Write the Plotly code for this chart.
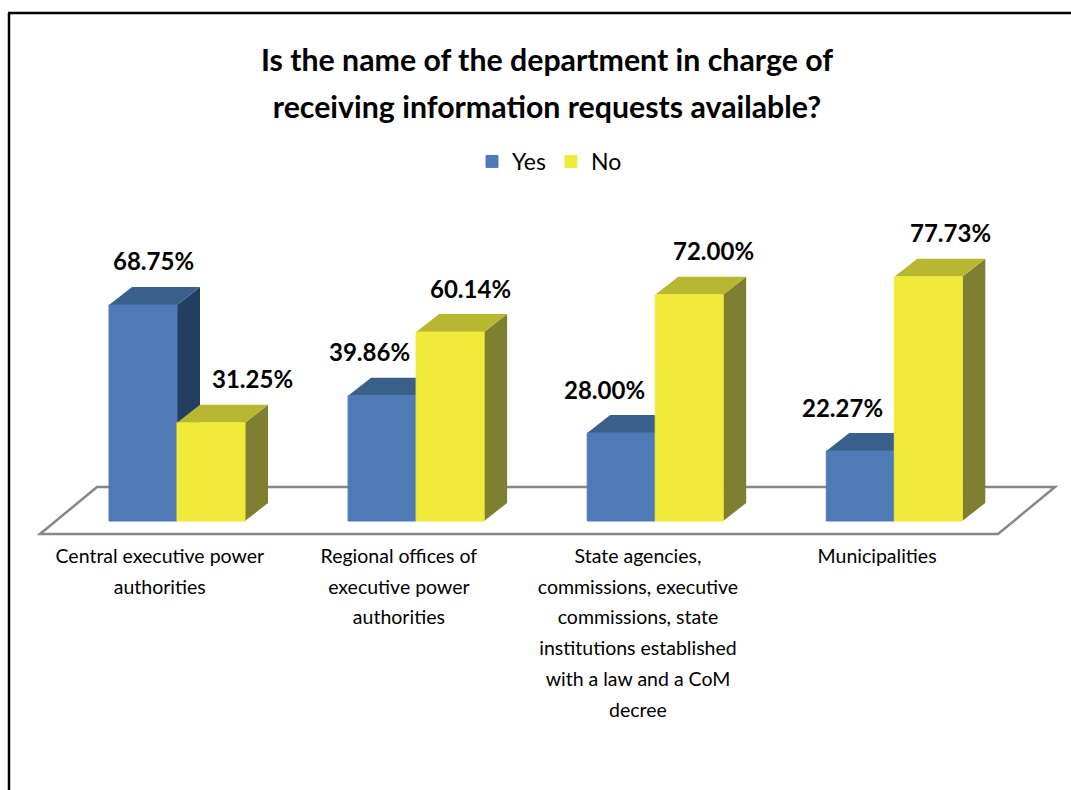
import plotly.graph_objects as go

categories = ["Central executive power<br>authorities",
              "Regional offices of<br>executive power<br>authorities",
              "State agencies,<br>commissions, executive<br>commissions, state<br>institutions established<br>with a law and a CoM<br>decree",
              "Municipalities"]
yes_values = [68.75, 39.86, 28.00, 22.27]
no_values = [31.25, 60.14, 72.00, 77.73]
series_names = ["Yes", "No"]

# label nudges in pixels (hand placed in the original)
yes_label_shift = [10, -13, -17, -18]
no_label_shift = [41, 20, 24, 22]

W, H = 1071, 790
FONT = "Lato, Carlito, Calibri, sans-serif"
PX_X = 239.1   # px per category
PX_Y = 3.142   # px per percent
X0_PX, Y0_PX = 177, 521
L, R, T, B = 30, 1065, 14, 538

xr = [(L - X0_PX) / PX_X, (R - X0_PX) / PX_X]
yr = [(Y0_PX - B) / PX_Y, (Y0_PX - T) / PX_Y]
bw = 68 / PX_X
dx, dy = 23 / PX_X, 18 / PX_Y
xs = list(range(len(categories)))

def px(x): return (x - L) / (R - L)
def py(y): return (B - y) / (B - T)
def dax(p): return (p - X0_PX) / PX_X
def day(p): return (Y0_PX - p) / PX_Y

def poly(pts, fill, line=None, width=0):
    path = "M" + " L".join(f"{a:.5f},{b:.5f}" for a, b in pts) + " Z"
    return dict(type="path", xref="x", yref="y", path=path, fillcolor=fill,
                line=dict(color=line or fill, width=width), layer="below")

shapes = [
    poly([(dax(40), day(534)), (dax(97), day(487)), (dax(1055), day(487)), (dax(998), day(534))],
         "white", "#878787", 2.5),
]
for vals, left, top_c, side_c in ((yes_values, -bw, "#3A5F8B", "#233F5F"),
                                  (no_values, 0, "#B8B732", "#7F7F32")):
    for x, v in zip(xs, vals):
        a, b = x + left, x + left + bw
        shapes.append(poly([(b, 0), (b + dx, dy), (b + dx, v + dy), (b, v)], side_c))
        shapes.append(poly([(a, v), (a + dx, v + dy), (b + dx, v + dy), (b, v)], top_c))

for x0, y0, x1, y1 in ((9, 13, 9, H), (8, 13, W, 13)):
    shapes.append(dict(type="line", xref="paper", yref="paper", x0=px(x0), y0=py(y0),
                       x1=px(x1), y1=py(y1), line=dict(color="black", width=2.5)))

fig = go.Figure()
fig.add_bar(name=series_names[0], x=xs, y=yes_values, width=bw, offset=-bw,
            marker=dict(color="#4E7BB5", line=dict(color="#4E7BB5", width=1)))
fig.add_bar(name=series_names[1], x=xs, y=no_values, width=bw, offset=0,
            marker=dict(color="#F0EB3A", line=dict(color="#F0EB3A", width=1)))

annotations = []
for vals, shifts, left in ((yes_values, yes_label_shift, -bw / 2), (no_values, no_label_shift, bw / 2)):
    for x, v, s in zip(xs, vals, shifts):
        annotations.append(dict(x=x + left, y=v, xref="x", yref="y", text=f"<b>{v:.2f}%</b>",
                                showarrow=False, xshift=s, yshift=44,
                                font=dict(family=FONT, size=24, color="black")))

def spaced(text, size):
    return "<br>".join(f'<span style="font-size:{size}px">{p}</span>' for p in text.split("<br>"))

fig.update_layout(
    width=W, height=H, autosize=False,
    margin=dict(l=L, r=W - R, t=T, b=H - B, pad=0),
    paper_bgcolor="white", plot_bgcolor="rgba(0,0,0,0)",
    barmode="overlay", showlegend=True,
    title=dict(text=spaced("<b>Is the name of the department in charge of</b><br><b>receiving information requests available?</b>", 30.3),
               x=547 / W, xanchor="center", xref="container", y=1 - 71 / H, yanchor="top",
               font=dict(family=FONT, size=36.2, color="black")),
    legend=dict(orientation="h", x=px(472), y=py(140), xanchor="left", yanchor="top",
                font=dict(family=FONT, size=23, color="black"), bgcolor="rgba(0,0,0,0)",
                itemwidth=30, tracegroupgap=0),
    xaxis=dict(range=xr, tickmode="array", tickvals=[x - 0.072 for x in xs],
               ticktext=[spaced(c, 19.5) for c in categories], showgrid=False, zeroline=False,
               showline=False, ticks="", tickangle=0, automargin=False,
               tickfont=dict(family=FONT, size=23.7, color="black")),
    yaxis=dict(range=yr, visible=False, showgrid=False, zeroline=False),
    shapes=shapes, annotations=annotations,
)
fig.write_html("out.html", config=dict(displayModeBar=False),
               post_script="document.body.style.margin='0';document.body.style.overflow='hidden';")
